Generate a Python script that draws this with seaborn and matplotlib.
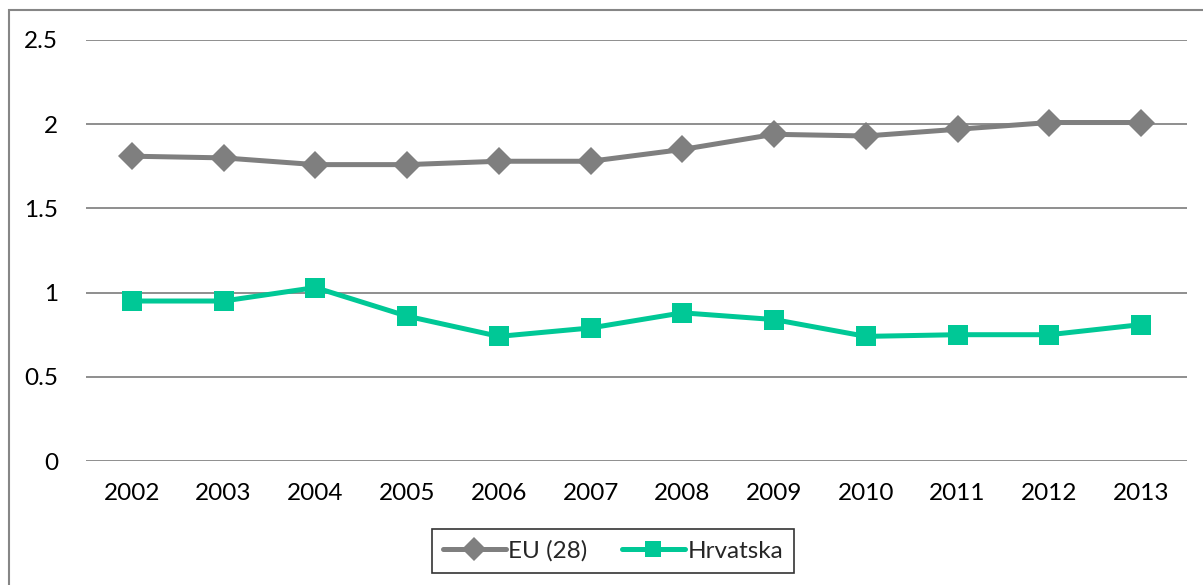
import matplotlib
matplotlib.use("Agg")
import matplotlib.pyplot as plt
import seaborn as sns
import pandas as pd
from matplotlib.patches import Rectangle
from matplotlib.lines import Line2D

years = ["2002", "2003", "2004", "2005", "2006", "2007", "2008", "2009", "2010", "2011", "2012", "2013"]
eu_values = [1.81, 1.80, 1.76, 1.76, 1.78, 1.78, 1.85, 1.94, 1.93, 1.97, 2.01, 2.01]
hr_values = [0.95, 0.95, 1.03, 0.86, 0.74, 0.79, 0.88, 0.84, 0.74, 0.75, 0.75, 0.81]
series_names = ["EU (28)", "Hrvatska"]
yticks = [0, 0.5, 1, 1.5, 2, 2.5]
ytick_labels = ["0", "0.5", "1", "1.5", "2", "2.5"]

df = pd.DataFrame({
    "year": years * 2,
    "value": eu_values + hr_values,
    "series": [series_names[0]] * len(years) + [series_names[1]] * len(years),
})
df["x"] = list(range(len(years))) * 2

sns.set_theme(style="white")
plt.rcParams["font.family"] = ["Lato", "DejaVu Sans"]

fig = plt.figure(figsize=(12.03, 5.85), dpi=100)
ax = fig.add_axes([86 / 1203, (585 - 461) / 585, (1187 - 86) / 1203, (461 - 40) / 585])

palette = {"EU (28)": "#7f7f7f", "Hrvatska": "#00c896"}
sns.lineplot(data=df, x="x", y="value", hue="series", style="series",
             markers={"EU (28)": "D", "Hrvatska": "s"}, dashes=False,
             palette=palette, linewidth=3.6, markersize=14.5, markeredgewidth=0,
             ax=ax, legend=False)

ax.set_xlim(-0.5, len(years) - 0.5)
ax.set_ylim(0, 2.5)
ax.set_xticks(range(len(years)))
ax.set_xticklabels(years)
ax.set_yticks(yticks)
ax.set_yticklabels(ytick_labels)
ax.set_xlabel("")
ax.set_ylabel("")
for s in ax.spines.values():
    s.set_visible(False)
ax.grid(axis="y", color="#868686", linewidth=1.3)
ax.grid(axis="x", visible=False)
ax.tick_params(axis="both", length=0, labelsize=17.5, colors="black")
ax.tick_params(axis="y", pad=20)
ax.tick_params(axis="x", pad=16)

handles = [
    Line2D([], [], color=palette["EU (28)"], marker="D", markersize=12, linewidth=3.6, markeredgewidth=0),
    Line2D([], [], color=palette["Hrvatska"], marker="s", markersize=12, linewidth=3.6, markeredgewidth=0),
]
leg = fig.legend(handles, series_names, ncol=2, loc="center",
                 bbox_to_anchor=(613 / 1203, (585 - 551) / 585),
                 frameon=True, fontsize=17.5, handlelength=2.6, handletextpad=0.1,
                 columnspacing=1.4, fancybox=False, borderpad=0.45)
leg.get_frame().set_edgecolor("black")
leg.get_frame().set_linewidth(1.2)

fig.patches.append(Rectangle((9 / 1203, -0.05), 1.2, (585 - 10) / 585 + 0.05,
                             transform=fig.transFigure, fill=False,
                             edgecolor="#868686", linewidth=1.5))

fig.savefig("out.png", dpi=100)
